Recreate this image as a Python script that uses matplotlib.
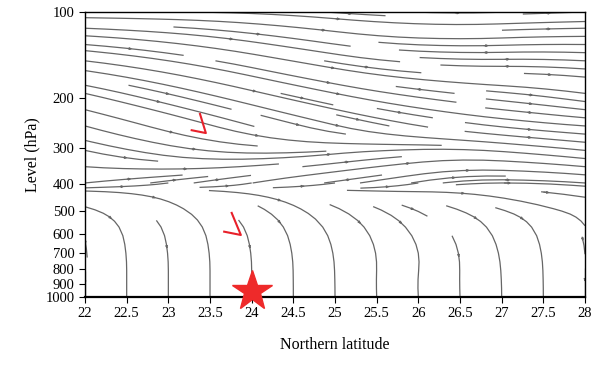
import numpy as np
import matplotlib.pyplot as plt

plt.rcParams['font.family'] = ['Liberation Serif', 'DejaVu Serif']

# grid of the wind field (lat x log10 pressure)
lats = np.arange(22, 29, 1.0)
logp = np.linspace(2, 3, 11)   # 100 ... 1000 hPa

# meridional component (toward north)
u = np.array([
    [1.0, 1.0, 1.0, 1.0, 1.0, 1.0, 1.0],
    [1.0, 1.0, 1.0, 1.0, 1.0, 1.0, 1.0],
    [1.0, 1.0, 1.0, 1.0, 1.0, 1.0, 1.0],
    [1.0, 1.0, 1.0, 1.0, 1.0, 1.0, 1.0],
    [1.0, 1.0, 1.0, 1.0, 1.0, 1.0, 1.0],
    [1.0, 1.0, 1.0, 1.0, 1.0, 1.0, 1.0],
    [1.0, 1.0, 1.0, 1.0, 1.0, 1.0, 1.0],
    [1.0, 0.9, 0.9, 0.9, 0.9, 0.8, 0.6],
    [0.25, 0.25, 0.3, 0.35, 0.5, 0.4, 0.2],
    [0.0, 0.0, 0.0, 0.05, -0.15, 0.1, 0.0],
    [0.0, 0.0, 0.0, 0.0, 0.1, 0.0, 0.0],
])
# vertical component (positive = sinking, toward higher pressure)
v = np.array([
    [0.00, 0.00, 0.01, 0.02, 0.01, -0.01, -0.01],
    [0.02, 0.03, 0.04, 0.04, 0.01, -0.01, 0.00],
    [0.04, 0.05, 0.06, 0.05, 0.02, 0.00, 0.02],
    [0.07, 0.07, 0.07, 0.06, 0.04, 0.03, 0.04],
    [0.08, 0.08, 0.08, 0.07, 0.05, 0.03, 0.02],
    [0.06, 0.04, 0.00, -0.03, -0.02, 0.02, 0.03],
    [-0.03, -0.04, -0.05, -0.04, -0.05, 0.00, 0.02],
    [0.10, 0.18, 0.18, 0.15, 0.12, 0.08, 0.05],
    [0.40, 0.40, 0.40, 0.30, 0.30, 0.30, 0.30],
    [0.40, 0.40, 0.40, 0.40, 0.40, 0.40, 0.40],
    [0.40, 0.40, 0.40, 0.40, 0.40, 0.40, 0.40],
])
split = 6   # row (398 hPa) where upper and lower layers meet

level_ticks = [100, 200, 300, 400, 500, 600, 700, 800, 900, 1000]
lat_ticks = [22, 22.5, 23, 23.5, 24, 24.5, 25, 25.5, 26, 26.5, 27, 27.5, 28]

# station (star) and the two red check marks
star_lat, star_p = 24.0, 950
mark1_lat = [23.38, 23.45, 23.28]
mark1_p = [228, 266, 260]
mark2_lat = [23.76, 23.87, 23.67]
mark2_p = [507, 606, 590]

fig = plt.figure(figsize=(6, 3.65), dpi=100)
ax = fig.add_axes([0.1417, 0.1863, 0.8333, 0.781])


def stream(rows, dens):
    kw = dict(density=dens, color='#666666', linewidth=0.9,
              arrowsize=0.3, arrowstyle='-|>', broken_streamlines=True)
    try:
        ax.streamplot(lats, logp[rows], u[rows], v[rows], num_arrows=6, **kw)
    except TypeError:
        ax.streamplot(lats, logp[rows], u[rows], v[rows], **kw)


stream(slice(0, split + 1), (0.8, 0.75))
stream(slice(split, None), (0.45, 0.3))

ax.plot(mark1_lat, np.log10(mark1_p), color='#e8202a', lw=1.5)
ax.plot(mark2_lat, np.log10(mark2_p), color='#e8202a', lw=1.5)
ax.plot(star_lat, np.log10(star_p), marker='*', color='#ee2a2a',
        markersize=30, clip_on=False, zorder=5)

ax.set_xlim(22, 28)
ax.set_ylim(3, 2)
ax.set_xticks(lat_ticks)
ax.set_xticklabels([f'{t:g}' for t in lat_ticks])
ax.set_yticks(np.log10(level_ticks))
ax.set_yticklabels([str(t) for t in level_ticks])
ax.tick_params(labelsize=10.5, direction='out', length=4)
for s in ax.spines.values():
    s.set_linewidth(1.0)
ax.spines['bottom'].set_linewidth(1.6)

ax.set_xlabel('Northern latitude', fontsize=11.5, labelpad=12)
ax.set_ylabel('Level (hPa)', fontsize=11.5)

fig.savefig('out.png', dpi=100)
